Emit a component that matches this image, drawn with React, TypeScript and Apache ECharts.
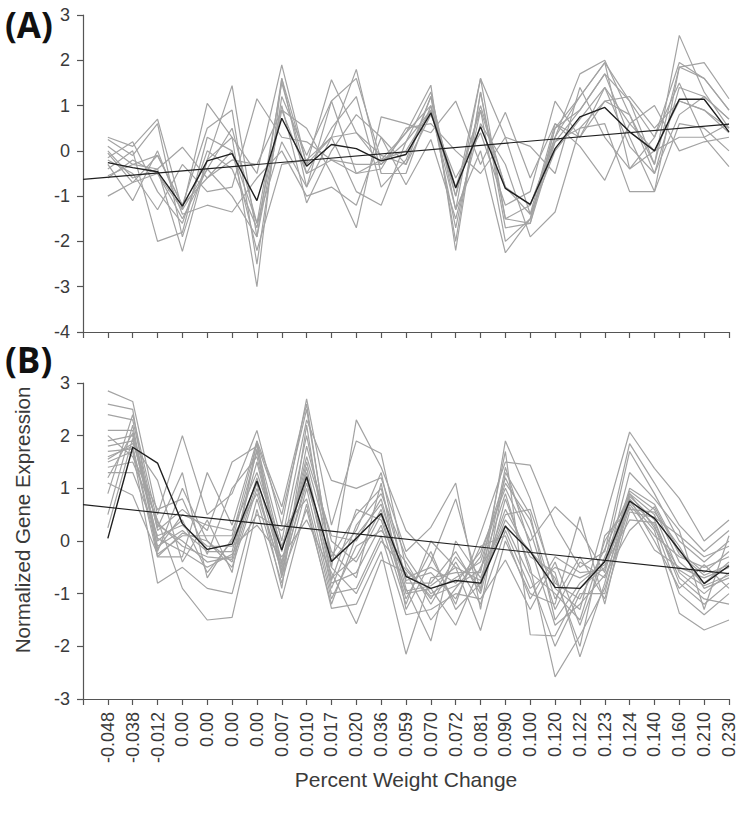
import React, { useEffect, useRef } from "react";
import * as echarts from "echarts";

// Category labels (first slot is the empty axis origin)
const categories = [
  "", "-0.048", "-0.038", "-0.012", "0.00", "0.00", "0.00", "0.00", "0.007", "0.010",
  "0.017", "0.020", "0.036", "0.059", "0.070", "0.072", "0.081", "0.090", "0.100",
  "0.120", "0.122", "0.123", "0.124", "0.140", "0.160", "0.210", "0.230",
];

// Panel A: individual gene profiles (26 values each)
const aGenes: number[][] = [
  [0.3, 0.1, 0.7, -1.3, 1.05, 0.3, -0.5, 1.9, -0.3, 1.57, 0.4, -0.3, 0.2, 1.3, -1.3, 1.6, -1.5, -1.2, 0.3, 1.7, 2.0, 0.8, -0.3, 2.55, 1.3, 0.5],
  [0.25, -0.1, 0.6, -1.9, -0.2, 1.44, -1.9, 1.6, -0.8, 0.3, 1.8, -0.5, -0.5, 1.0, -1.7, 0.9, -2.0, -1.5, 0.5, 1.2, 1.95, 1.1, 0.3, 1.95, 1.6, 0.9],
  [0.1, -0.3, -0.1, -1.2, 0.5, 0.9, -2.5, 1.2, -0.1, 1.1, 1.6, -0.2, 0.4, 1.45, -2.2, 1.3, -1.7, -1.6, 0.2, 0.9, 1.7, 0.3, -0.9, 1.85, 1.95, 1.15],
  [0.0, -0.6, -0.4, 0.08, -0.6, -0.2, -0.3, 0.9, 0.5, -0.5, -1.7, 0.75, 0.6, 0.4, 1.1, -0.3, 0.85, -0.6, 0.6, 0.1, -0.65, 0.6, 1.0, 0.0, 0.2, 0.3],
  [-0.05, -0.7, -0.5, -1.5, -0.4, 0.5, -1.6, 1.5, -0.5, 0.5, 1.2, -0.8, -0.2, 1.2, -1.0, 1.0, -0.8, -1.4, 0.0, 0.7, 1.4, 0.1, -0.5, 1.4, 1.2, 0.7],
  [-0.15, 0.2, -0.9, -1.6, 0.0, -0.4, -1.7, 1.0, -1.15, 0.0, 0.8, 0.3, -0.3, 0.8, -0.6, 0.4, -1.2, -0.9, 1.1, 0.3, 1.1, 1.2, 0.5, 1.1, 0.9, 0.4],
  [-0.2, -0.5, -1.3, -0.3, -0.9, -0.8, 1.15, 0.3, 0.2, -0.2, -0.5, -0.4, 0.5, 0.6, 0.0, -0.5, 0.3, 0.1, -0.5, 1.4, 0.3, -0.4, 0.0, 0.3, 0.3, -0.35],
  [-0.3, -1.1, 0.0, -1.4, -1.2, -1.35, -0.6, 0.0, -1.0, -0.8, -1.2, 0.3, -0.75, 0.25, -1.5, 0.6, -0.3, -1.9, -1.35, 0.5, 0.6, -0.9, -0.9, 0.6, 0.5, 0.0],
  [-0.4, 0.0, -2.0, -1.8, 0.3, 0.0, -2.2, -0.3, -0.2, 0.3, -0.9, -1.2, 0.2, 0.9, -1.3, 0.0, -2.25, -1.5, 0.3, 1.2, 1.95, -0.4, 0.3, 1.5, 0.3, 0.6],
  [-0.55, -0.3, -0.4, -2.22, -0.2, 0.3, -3.0, 1.6, -0.3, 0.3, 0.4, -0.1, -0.3, 1.2, -2.0, 1.3, -1.5, -1.6, 0.5, 0.9, 1.7, 1.1, -0.3, 1.85, 1.6, 0.9],
  [-0.6, -0.2, -0.5, -1.3, -0.4, -1.0, -1.9, 0.9, -0.5, -0.2, -0.3, -0.3, 0.4, 1.0, -0.8, 0.9, -0.8, -1.2, 0.2, 0.5, 1.1, 0.8, -0.5, 0.8, 1.2, 0.7],
  [-1.0, -0.7, -0.1, -1.2, -0.6, 0.0, -1.6, 0.2, -0.8, 1.1, -0.5, -0.2, 0.0, 0.9, -1.0, 1.6, 0.3, -1.4, 0.6, 0.3, 1.4, 0.6, 0.0, 1.1, 0.9, 0.5],
];
const aCentroid = [-0.26, -0.37, -0.46, -1.22, -0.22, -0.06, -1.1, 0.72, -0.34, 0.14, 0.05, -0.22, -0.08, 0.84, -0.82, 0.53, -0.83, -1.18, 0.05, 0.75, 0.96, 0.42, 0.0, 1.14, 1.14, 0.42];
const aTrend = [-0.63, 0.59]; // value at axis origin and at last category

// Panel B: values observed at each category (one list per category)
const bByCategory: number[][] = [
  [2.85, 2.6, 2.4, 2.1, 1.9, 1.8, 1.6, 1.5, 1.4, 1.3, 1.1, 0.9, 0.5, 0.25, 2.0, 1.7, 1.2, 1.55],
  [2.65, 2.5, 2.3, 2.1, 2.0, 1.9, 1.8, 1.7, 1.5, 1.3, 0.87, 2.4, 2.2, 1.95, 1.6, 1.75, 2.05, 1.85],
  [0.5, -0.3, 0.2, 0.0, -0.1, 0.3, -0.2, -0.8, 0.4, 0.1, -0.25, 0.35, -0.15, 0.05, 0.6, -0.3, 0.25, 1.15],
  [2.0, -0.3, 0.6, 0.4, 0.2, 0.0, 1.0, -0.5, -0.9, 0.3, 0.1, -0.1, 0.5, -0.2, 0.8, 0.15, 1.3, -0.4],
  [0.5, 1.3, 0.2, -0.6, -0.2, -0.4, 0.0, -0.9, -1.5, -0.1, 0.1, -0.3, 0.3, -0.5, -0.25, 0.0, -0.7, 0.4],
  [0.9, 0.3, 1.5, 0.0, -0.2, -0.3, -0.5, -1.0, -1.45, -0.1, 0.1, -0.35, 0.2, -0.25, 1.0, -0.4, 0.05, -0.6],
  [2.1, 1.9, 1.8, 1.7, 1.5, 1.2, 1.0, 0.8, 0.6, 0.3, 1.85, 1.75, 1.3, 0.5, 1.6, 1.1, 0.9, 1.9],
  [0.3, 0.65, 0.0, -0.2, -0.4, -0.5, -0.6, -0.8, -1.1, -0.3, 0.5, -0.7, -0.1, 0.2, -0.45, -0.9, -0.55, -0.65],
  [2.7, 2.6, 2.3, 2.0, 1.6, 1.4, 1.2, 1.0, 0.7, 0.4, 2.5, 1.8, 1.3, 0.8, 1.5, 2.2, 1.1, 0.6],
  [0.3, -0.5, 1.15, -0.3, 0.1, -0.7, -0.8, -1.0, -1.28, -0.6, -0.4, 0.0, -0.9, -1.1, -0.2, -0.75, -0.5, -1.2],
  [1.9, 2.3, 1.0, 0.5, 0.0, -0.3, -0.6, -0.9, -1.2, -1.57, 0.2, -0.4, 0.3, -0.1, -0.7, 0.6, -1.0, 0.1],
  [1.66, 1.4, 1.2, 1.0, 0.8, 0.6, 0.3, 0.1, -0.2, -0.36, 1.3, 0.5, 0.9, 0.2, 1.1, 0.4, 0.0, 0.7],
  [-0.5, 0.2, -0.2, -0.7, -0.9, -1.0, -1.2, -1.4, -2.15, -0.6, -0.8, -1.1, -0.3, -0.4, -1.3, -0.95, -0.55, -0.75],
  [-1.1, -0.3, 0.26, -0.5, -1.9, -0.9, 0.0, -1.3, -0.7, -1.5, -0.8, -0.2, -1.0, -1.2, -0.4, -0.85, -1.05, -0.6],
  [-0.3, -1.2, 1.1, -0.8, 0.0, -1.6, -0.5, -1.0, -0.6, -0.9, -0.2, -1.3, -0.7, -0.4, 0.8, -0.5, -0.85, -1.1],
  [-0.9, 0.14, -1.3, -0.2, -0.7, -0.5, -1.7, -1.1, -0.6, -0.3, -1.0, -0.8, -0.4, -1.2, -0.95, -0.75, -0.55, -0.1],
  [1.9, 1.5, 1.3, 1.0, 0.6, 0.3, 0.0, -0.36, 1.7, 1.2, 0.8, 0.4, 1.1, 0.2, 1.4, 0.5, 0.9, 0.1],
  [0.8, 1.44, 0.5, 0.0, -0.3, -0.7, -1.0, -1.3, -1.78, 0.2, -0.5, -0.2, 0.4, -0.9, -0.1, 0.6, -0.6, -1.1],
  [-0.9, 0.3, -1.5, 0.65, -0.6, -2.0, -1.2, -0.4, -1.8, -1.3, -2.58, -0.7, -1.1, -0.5, -1.6, -0.8, -1.0, -0.3],
  [-1.3, -0.5, -0.8, 0.2, -2.2, -1.0, 0.46, -1.6, -0.9, -0.4, -1.8, -2.0, -0.3, -0.7, -1.2, -1.1, -1.5, -0.6],
  [0.4, -0.2, -0.4, -0.6, -0.8, -1.0, -1.2, -0.3, -0.5, -0.7, -0.9, 0.1, -1.1, -0.45, -0.65, -0.15, 0.0, -0.55],
  [2.07, 1.85, 1.7, 1.0, 0.95, 0.9, 0.85, 0.8, 0.75, 0.7, 0.65, 0.6, 0.55, 0.4, 0.2, 0.9, 0.8, 1.3],
  [1.38, 1.1, 0.9, 0.7, 0.6, 0.5, 0.4, 0.3, 0.2, 0.1, -0.17, 0.55, 0.45, 0.35, 0.65, 0.25, 0.0, 0.8],
  [0.81, 0.3, 0.0, -0.2, -0.4, -0.6, -0.8, -1.0, -1.37, -0.3, -0.5, -0.1, 0.1, -0.7, -0.25, -0.55, -0.9, 0.2],
  [0.0, -0.2, -0.4, -0.6, -0.8, -1.0, -1.2, -1.4, -1.69, -0.5, -0.7, -0.9, -0.3, -1.1, -0.65, -0.85, -0.45, -1.3],
  [0.4, 0.2, 0.0, -0.2, -0.4, -0.6, -0.8, -1.0, -1.5, -0.3, -0.5, -0.7, -0.1, -1.2, -0.45, -0.65, -0.9, 0.1],
];
const bCentroid = [0.05, 1.78, 1.48, 0.33, -0.16, -0.06, 1.14, -0.17, 1.22, -0.39, 0.05, 0.52, -0.67, -0.9, -0.75, -0.8, 0.28, -0.2, -0.88, -0.9, -0.39, 0.76, 0.43, -0.17, -0.81, -0.47];
const bTrend = [0.69, -0.62];

const yTicksA = { min: -4, max: 3 };
const yTicksB = { min: -3, max: 3 };

const GRAY = "#a3a3a3";
const DARK = "#1f1f1f";
const AXIS = "#555555";
const LABEL = "#3a3a3a";
const FONT = "'Liberation Sans', Arial, sans-serif";

export default function App() {
  const ref = useRef<HTMLDivElement>(null);

  useEffect(() => {
    if (!ref.current) return;
    const chart = echarts.init(ref.current, undefined, { renderer: "svg" });

    const pad = (vals: number[]) => [null, ...vals];
    const trendData = (t: number[]) => {
      const d: (number | null)[] = categories.map(() => null);
      d[0] = t[0];
      d[categories.length - 1] = t[1];
      return d;
    };

    const bGenes: number[][] = bByCategory[0].map((_, g) => bByCategory.map((col) => col[g]));

    const line = (data: (number | null)[], idx: number, color: string, width: number, z: number, connect = false) => ({
      type: "line",
      xAxisIndex: idx,
      yAxisIndex: idx,
      data,
      symbol: "none",
      connectNulls: connect,
      silent: true,
      z,
      lineStyle: { color, width },
    });

    const series: any[] = [];
    aGenes.forEach((g) => series.push(line(pad(g), 0, GRAY, 1.2, 2)));
    bGenes.forEach((g) => series.push(line(pad(g), 1, GRAY, 1.2, 2)));
    series.push(line(pad(aCentroid), 0, DARK, 1.4, 4));
    series.push(line(pad(bCentroid), 1, DARK, 1.4, 4));
    series.push(line(trendData(aTrend), 0, DARK, 1.1, 5, true));
    series.push(line(trendData(bTrend), 1, DARK, 1.1, 5, true));

    const xAxisBase = (gridIndex: number, showLabels: boolean) => ({
      type: "category",
      gridIndex,
      data: categories,
      boundaryGap: false,
      axisLine: { onZero: false, lineStyle: { color: AXIS, width: 1.2 } },
      axisTick: { show: true, interval: 0, length: 6, lineStyle: { color: AXIS, width: 1.2 } },
      axisLabel: showLabels
        ? { show: true, interval: 0, rotate: 90, fontSize: 18, color: LABEL, fontFamily: FONT, margin: 13 }
        : { show: false },
      splitLine: { show: false },
    });

    const yAxisBase = (gridIndex: number, r: { min: number; max: number }) => ({
      type: "value",
      gridIndex,
      min: r.min,
      max: r.max,
      interval: 1,
      axisLine: { show: true, onZero: false, lineStyle: { color: AXIS, width: 1.2 } },
      axisTick: { show: true, length: 6, lineStyle: { color: AXIS, width: 1.2 } },
      axisLabel: { fontSize: 18, color: LABEL, fontFamily: FONT, margin: 13 },
      splitLine: { show: false },
    });

    chart.setOption({
      animation: false,
      backgroundColor: "#ffffff",
      grid: [
        { left: 83, top: 15, width: 646, height: 317 },
        { left: 83, top: 383, width: 646, height: 316 },
      ],
      xAxis: [
        xAxisBase(0, false),
        {
          ...xAxisBase(1, true),
          name: "Percent Weight Change",
          nameLocation: "middle",
          nameGap: 70,
          nameTextStyle: { fontSize: 21, color: LABEL, fontFamily: FONT },
        },
      ],
      yAxis: [yAxisBase(0, yTicksA), yAxisBase(1, yTicksB)],
      graphic: [
        {
          type: "text",
          left: 5,
          top: 7,
          style: { text: "(A)", fontSize: 35, fontWeight: "bold", fill: "#111", fontFamily: "'Open Sans', sans-serif" },
        },
        {
          type: "text",
          left: 5,
          top: 342,
          style: { text: "(B)", fontSize: 35, fontWeight: "bold", fill: "#111", fontFamily: "'Open Sans', sans-serif" },
        },
        {
          type: "text",
          x: 22,
          y: 520,
          rotation: Math.PI / 2,
          style: {
            text: "Normalized Gene Expression",
            fontSize: 20.5,
            fill: LABEL,
            fontFamily: FONT,
            textAlign: "center",
            textVerticalAlign: "middle",
          },
        },
      ],
      series,
    });

    return () => chart.dispose();
  }, []);

  return <div ref={ref} style={{ width: 744, height: 822, position: "absolute", left: 0, top: 0 }} />;
}
